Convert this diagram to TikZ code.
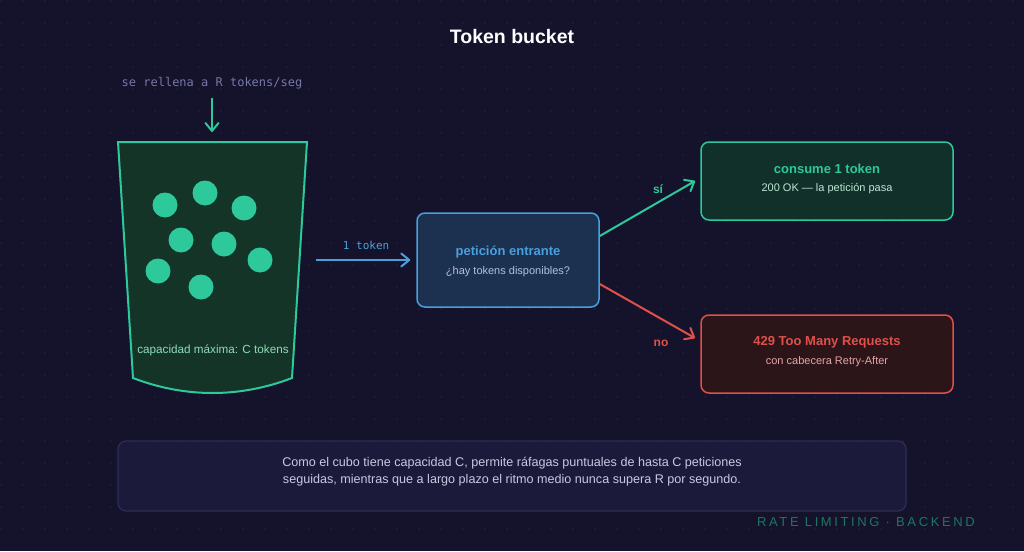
\documentclass[tikz,border=0pt]{standalone}
\usepackage{fontspec}
\setmainfont{Liberation Sans}
\newfontfamily\monofont{DejaVu Sans Mono}
\newfontfamily\trackfont[LetterSpace=20]{Liberation Sans}
\usepackage{tikz}
\usetikzlibrary{arrows.meta}
\definecolor{bgnavy}{HTML}{14132B}
\definecolor{griddot}{HTML}{26253F}
\definecolor{tokgreen}{HTML}{2DC99A}
\definecolor{bucketfill}{HTML}{143428}
\definecolor{capgreen}{HTML}{8EDDB8}
\definecolor{okfill}{HTML}{12302A}
\definecolor{oktext}{HTML}{BDE6D4}
\definecolor{reqblue}{HTML}{4A9FDC}
\definecolor{reqfill}{HTML}{1C3050}
\definecolor{reqtext}{HTML}{AFC3DF}
\definecolor{errred}{HTML}{E0504A}
\definecolor{errfill}{HTML}{2C1519}
\definecolor{errtext}{HTML}{E5A5A5}
\definecolor{notefill}{HTML}{1C1A3A}
\definecolor{noteline}{HTML}{2E2C55}
\definecolor{notetext}{HTML}{C9C8E2}
\definecolor{refilltext}{HTML}{7777A6}
\definecolor{tagteal}{HTML}{1E7563}

\begin{document}
\begin{tikzpicture}[x=1pt,y=-1pt,
  box/.style={draw,line width=1.5pt,rounded corners=8pt,inner sep=0pt},
  flow/.style={line width=2pt,-{Straight Barb[length=8pt,width=13pt,round]}},
  ttl/.style={font=\fontsize{13}{15}\selectfont\bfseries},
  sub/.style={font=\fontsize{11}{13}\selectfont}]
  \useasboundingbox[fill=bgnavy] (0,0) rectangle (1024,551);
  \foreach \x in {1,23,...,1023} {
    \foreach \y in {1,23,...,550} {
      \fill[griddot] (\x,\y) circle(0.9pt); % background dots
    }
  }
  \node[white,font=\fontsize{19.5}{22}\selectfont\bfseries] (title) at (512,37) {Token bucket};

  % refill from the top
  \node[refilltext,font=\monofont\fontsize{12}{14}\selectfont] (refill) at (212,83) {se rellena a R tokens/seg};
  \coordinate (bucketin) at (212,132);
  \draw[flow,tokgreen,shorten <=6pt] (refill) -- (bucketin);

  % the bucket itself
  \draw[tokgreen,fill=bucketfill,line width=2pt] (118,142) -- (307,142) -- (292,378)
    .. controls (240,398) and (185,398) .. (133,378) -- cycle;
  \foreach \x/\y in {165/205,205/193,244/208,181/240,224/244,260/260,158/271,201/287} {
    \fill[tokgreen] (\x,\y) circle(12.5pt); % tokens
  }
  \node[capgreen,font=\fontsize{11.7}{14}\selectfont] (caplabel) at (213,350) {capacidad máxima: C tokens};

  % request check
  \node[box,draw=reqblue,fill=reqfill,minimum width=182pt,minimum height=94pt] (req) at (508,260) {};
  \node[ttl,reqblue] (reqtitle) at (508,252) {petición entrante};
  \node[sub,reqtext] (reqsub) at (508,272) {¿hay tokens disponibles?};
  \coordinate (bucketout) at (316,260);
  \draw[flow,reqblue,shorten >=6pt] (bucketout) -- (req.west)
    node[midway,above=6pt,font=\monofont\fontsize{11}{13}\selectfont] (toklabel) {1 token};

  % outcomes
  \node[box,draw=tokgreen,fill=okfill,minimum width=252pt,minimum height=78pt] (ok) at (827,181) {};
  \node[ttl,tokgreen] (oktitle) at (827,169) {consume 1 token};
  \node[sub,oktext] (oksub) at (827,189) {200 OK — la petición pasa};
  \node[box,draw=errred,fill=errfill,minimum width=252pt,minimum height=78pt] (err) at (827,354) {};
  \node[ttl,errred] (errtitle) at (827,342) {429 Too Many Requests};
  \node[sub,errtext] (errsub) at (827,362) {con cabecera Retry-After};

  \draw[flow,tokgreen,shorten >=6pt] ([yshift=24pt]req.east) -- ([yshift=3pt]ok.west);
  \draw[flow,errred,shorten >=6pt] ([yshift=-24pt]req.east) -- ([yshift=13pt]err.west);
  \node[tokgreen,font=\fontsize{12}{14}\selectfont\bfseries] (yes) at (658,189) {sí};
  \node[errred,font=\fontsize{12}{14}\selectfont\bfseries] (no) at (661,343) {no};

  % note at the bottom
  \node[box,line width=1.2pt,draw=noteline,fill=notefill,minimum width=788pt,minimum height=70pt] (note) at (512,476) {};
  \node[notetext,align=center,font=\fontsize{12.6}{17}\selectfont] (notetxt) at (512,472)
    {Como el cubo tiene capacidad C, permite ráfagas puntuales de hasta C peticiones\\
     seguidas, mientras que a largo plazo el ritmo medio nunca supera R por segundo.};
  \node[tagteal,font=\trackfont\fontsize{13}{15}\selectfont,anchor=west,inner sep=0pt] (tag) at (757,522) {RATE LIMITING · BACKEND};
\end{tikzpicture}
\end{document}
